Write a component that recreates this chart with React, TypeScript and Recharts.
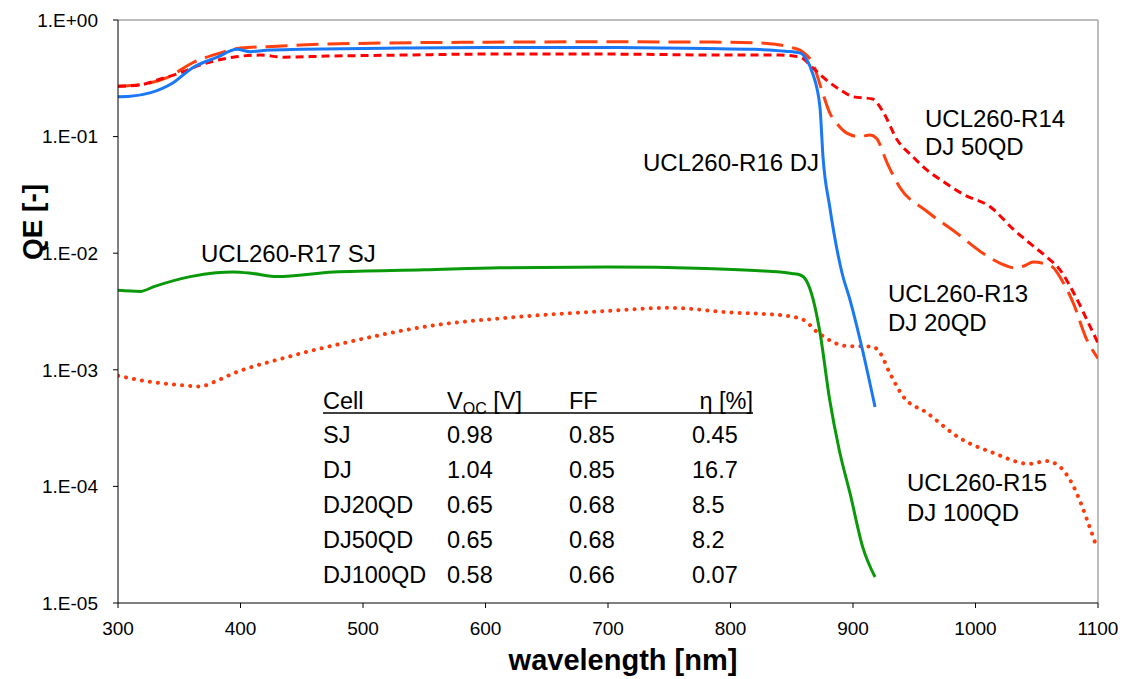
import { LineChart, Line, XAxis, YAxis, ReferenceLine } from "recharts";

// [wavelength nm, QE]
const R16_DJ = [
  [300, 0.22], [310, 0.222], [326, 0.237], [345, 0.29], [361, 0.39], [381, 0.48],
  [397, 0.56], [408, 0.535], [421, 0.55], [450, 0.56], [530, 0.575], [600, 0.58],
  [700, 0.58], [780, 0.57], [820, 0.56], [845, 0.54], [857, 0.52], [862, 0.46],
  [867, 0.35], [873, 0.18], [875.5, 0.067], [881, 0.025], [891, 0.0068],
  [897.5, 0.004], [907, 0.0016], [918, 0.00048],
];

const R17_SJ = [
  [300, 0.0048], [318, 0.0047], [330, 0.0052], [359, 0.0063], [380, 0.0068],
  [394, 0.0069], [410, 0.0067], [430, 0.0063], [476, 0.0069], [550, 0.0072],
  [612, 0.0075], [700, 0.0076], [780, 0.0074], [820, 0.0071], [850, 0.0067],
  [857, 0.0065], [862, 0.0058], [867.5, 0.004], [873, 0.0021], [881, 0.00055],
  [889, 0.0002], [897.6, 0.000087], [908, 0.00003], [918, 0.0000167],
];

const R13_DJ20QD = [
  [300, 0.27], [320, 0.28], [340, 0.32], [361, 0.43], [383, 0.52], [400, 0.575],
  [421, 0.59], [449, 0.61], [516, 0.635], [600, 0.645], [700, 0.65], [800, 0.645],
  [830, 0.63], [850, 0.58], [857, 0.55], [862, 0.5], [867, 0.43], [874, 0.26],
  [881, 0.16], [888, 0.125], [895, 0.107], [905, 0.1], [914, 0.103], [919, 0.097],
  [928, 0.059], [938, 0.037], [960, 0.023], [985, 0.0148], [1006, 0.01],
  [1025, 0.0078], [1031, 0.0075], [1040, 0.0078], [1047, 0.0084], [1055, 0.0082],
  [1063, 0.0076], [1072, 0.0055], [1080, 0.0037], [1090, 0.0019], [1100, 0.00125],
];

const R14_DJ50QD = [
  [300, 0.27], [320, 0.28], [334, 0.31], [350, 0.35], [367, 0.41], [394, 0.48],
  [416, 0.5], [435, 0.48], [470, 0.49], [530, 0.5], [600, 0.51], [700, 0.51],
  [800, 0.5], [840, 0.5], [857, 0.48], [867, 0.39], [881, 0.29], [890, 0.25],
  [900, 0.22], [916, 0.21], [925, 0.16], [936, 0.094], [949, 0.067], [960, 0.052],
  [971, 0.043], [990, 0.032], [1012, 0.025], [1031, 0.016], [1045, 0.012],
  [1058, 0.0093], [1069, 0.0072], [1080, 0.0046], [1094, 0.0023], [1100, 0.0017],
];

const R15_DJ100QD = [
  [300, 0.00089], [326, 0.00079], [350, 0.00074], [367, 0.00072], [380, 0.0008],
  [394, 0.00093], [435, 0.00126], [489, 0.00174], [557, 0.0024], [612, 0.00276],
  [700, 0.0032], [750, 0.0034], [800, 0.0031], [840, 0.00295], [859, 0.0027],
  [871, 0.0021], [895, 0.0016], [916, 0.00158], [922, 0.0014], [930, 0.00094],
  [941, 0.00059], [960, 0.00043], [987, 0.00026], [1014, 0.000195], [1044, 0.000156],
  [1058, 0.000165], [1069, 0.000147], [1080, 0.0001], [1091, 0.000052], [1098, 0.000032],
];

const X_TICKS = [300, 400, 500, 600, 700, 800, 900, 1000, 1100];
const Y_TICKS = [1, 0.1, 0.01, 0.001, 0.0001, 0.00001];

const TABLE_HEAD = ["Cell", "VOC", "FF", "η [%]"];
const TABLE_ROWS = [
  ["SJ", "0.98", "0.85", "0.45"],
  ["DJ", "1.04", "0.85", "16.7"],
  ["DJ20QD", "0.65", "0.68", "8.5"],
  ["DJ50QD", "0.65", "0.68", "8.2"],
  ["DJ100QD", "0.58", "0.66", "0.07"],
];

const FONT = "'Liberation Sans', Arial, sans-serif";

const toPts = (arr: number[][]) => arr.map(([wl, qe]) => ({ wl, qe }));

const fmtY = (v: number) => {
  const e = Math.round(Math.log10(v));
  return "1.E" + (e >= 0 ? "+" : "-") + String(Math.abs(e)).padStart(2, "0");
};

const COL_X = [323, 447, 569, 692];

export default function App() {
  return (
    <div style={{ position: "absolute", left: 0, top: 0, width: 1124, height: 679, background: "#fff" }}>
      <LineChart width={1124} height={679} margin={{ top: 20, right: 26, left: 0, bottom: 0 }}>
        <XAxis
          dataKey="wl" type="number" domain={[300, 1100]} ticks={X_TICKS} allowDataOverflow
          height={76} stroke="#000" tickSize={5} tickMargin={14}
          tick={{ fill: "#000", fontSize: 19, fontFamily: FONT }}
        />
        <YAxis
          scale="log" type="number" domain={[0.00001, 1]} ticks={Y_TICKS} allowDataOverflow
          width={118} stroke="#000" tickSize={5} tickMargin={15} tickFormatter={fmtY}
          tick={{ fill: "#000", fontSize: 19, fontFamily: FONT }}
        />
        <ReferenceLine y={1} stroke="#a6a6a6" strokeWidth={1.5} />
        <ReferenceLine x={1100} stroke="#a6a6a6" strokeWidth={1.5} />
        <Line data={toPts(R15_DJ100QD)} dataKey="qe" type="monotone" dot={false} isAnimationActive={false}
          stroke="#ff3a0a" strokeWidth={4} strokeDasharray="0.1 8" strokeLinecap="round" />
        <Line data={toPts(R17_SJ)} dataKey="qe" type="monotone" dot={false} isAnimationActive={false}
          stroke="#0a990a" strokeWidth={3} />
        <Line data={toPts(R13_DJ20QD)} dataKey="qe" type="monotone" dot={false} isAnimationActive={false}
          stroke="#ff4010" strokeWidth={3} strokeDasharray="22 9" />
        <Line data={toPts(R14_DJ50QD)} dataKey="qe" type="monotone" dot={false} isAnimationActive={false}
          stroke="#ff0000" strokeWidth={3} strokeDasharray="8 5" />
        <Line data={toPts(R16_DJ)} dataKey="qe" type="monotone" dot={false} isAnimationActive={false}
          stroke="#1a78f5" strokeWidth={3} />
      </LineChart>

      <svg width={1124} height={679} style={{ position: "absolute", left: 0, top: 0, pointerEvents: "none" }}
        fontFamily={FONT}>
        {/* axis titles */}
        <text x={623} y={670} textAnchor="middle" fontSize={29} fontWeight="bold">wavelength [nm]</text>
        <text x={42} y={222} textAnchor="middle" fontSize={28} fontWeight="bold"
          transform="rotate(-90 42 222)">QE [-]</text>

        {/* curve labels */}
        <g fontSize={24}>
          <text x={643} y={171}>UCL260-R16 DJ</text>
          <text x={201} y={262}>UCL260-R17 SJ</text>
          <text x={925} y={127}>UCL260-R14</text>
          <text x={925} y={155}>DJ 50QD</text>
          <text x={888} y={302}>UCL260-R13</text>
          <text x={888} y={331}>DJ 20QD</text>
          <text x={907} y={491}>UCL260-R15</text>
          <text x={907} y={521}>DJ 100QD</text>
        </g>

        {/* performance table */}
        <g fontSize={23.5}>
          <text x={COL_X[0]} y={409}>{TABLE_HEAD[0]}</text>
          <text x={COL_X[1]} y={409}>V<tspan fontSize={16} dy={5}>{TABLE_HEAD[1].slice(1)}</tspan><tspan dy={-5}> [V]</tspan></text>
          <text x={COL_X[2]} y={409}>{TABLE_HEAD[2]}</text>
          <text x={753} y={409} textAnchor="end">{TABLE_HEAD[3]}</text>
          <line x1={323} x2={753} y1={413} y2={413} stroke="#000" strokeWidth={1.5} />
          {TABLE_ROWS.map((row, i) => (
            <g key={row[0]}>
              {row.map((cell, j) => (
                <text key={j} x={COL_X[j]} y={443 + i * 35}>{cell}</text>
              ))}
            </g>
          ))}
        </g>
      </svg>
    </div>
  );
}
